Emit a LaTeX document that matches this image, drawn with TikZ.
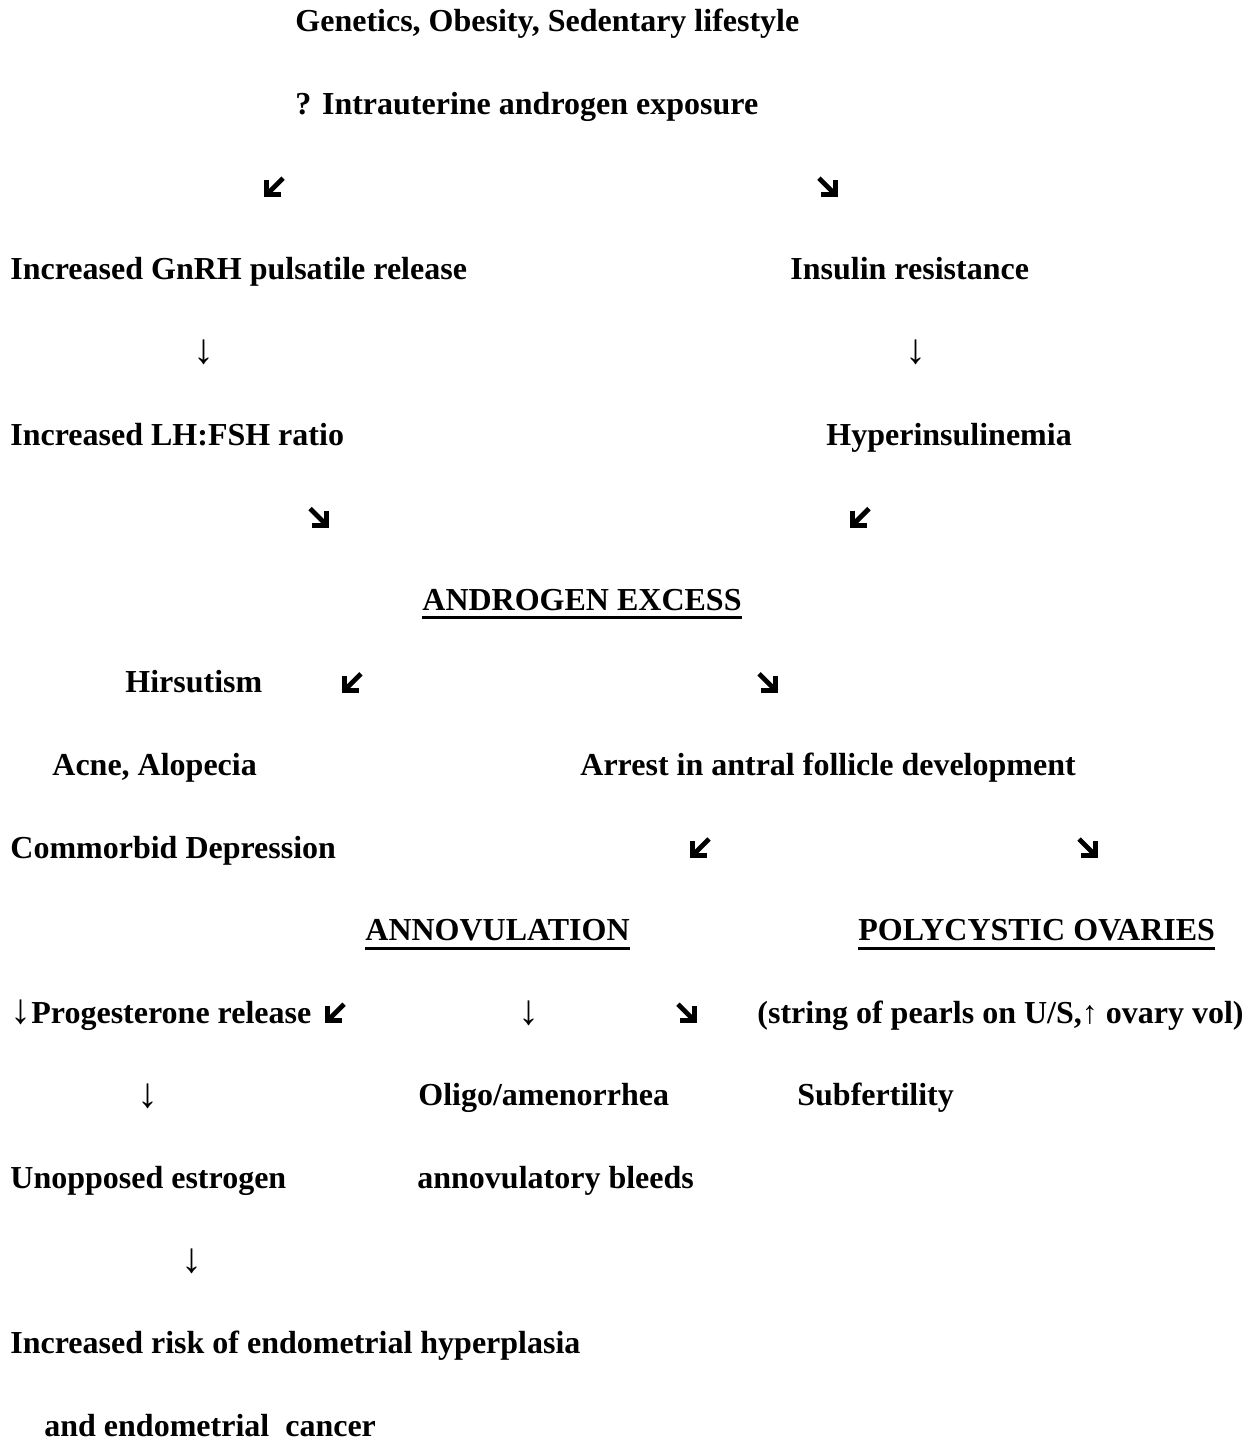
\documentclass[tikz,border=0pt]{standalone}
\usepackage{fontspec}
\setmainfont{Liberation Serif}
\usetikzlibrary{calc}
\tikzset{
  txt/.style={anchor=base west, inner sep=0pt, font=\fontsize{16}{19}\selectfont\bfseries},
  dglyph/.style={anchor=base, inner sep=0pt, font=\fontsize{21}{24}\selectfont\bfseries},
  diagarrow/.style={line width=2.4pt, line cap=butt, line join=miter},
  uline/.style={line width=1.5pt}
}
\newcommand\arrSW[2]{%
  \draw[diagarrow] (#1+19,#2-19) -- (#1+4,#2-4);
  \draw[diagarrow] (#1+2.4,#2-17) -- (#1+2.4,#2-2.4) -- (#1+17,#2-2.4);}
\newcommand\arrSE[2]{%
  \draw[diagarrow] (#1+1,#2-19) -- (#1+16,#2-4);
  \draw[diagarrow] (#1+3,#2-2.4) -- (#1+17.6,#2-2.4) -- (#1+17.6,#2-17);}
\begin{document}
\begin{tikzpicture}[x=0.5pt,y=-0.5pt]
\useasboundingbox (0,0) rectangle (1250,1444);
% row 1-2
\node[txt] (gen) at (295,32) {Genetics, Obesity, Sedentary lifestyle};
\node[txt] (intra) at (295,114.6) {? Intrauterine androgen exposure};
% row 3
\arrSW{264}{197.2}
\arrSE{818}{197.2}
% row 4
\node[txt] (gnrh) at (10,279.8) {Increased GnRH pulsatile release};
\node[txt] (ins) at (790,279.8) {Insulin resistance};
% row 5
\node[dglyph] (d1) at (204,364) {↓};
\node[dglyph] (d2) at (916,364) {↓};
% row 6
\node[txt] (lh) at (10,445) {Increased LH:FSH ratio};
\node[txt] (hyper) at (826,445) {Hyperinsulinemia};
% row 7
\arrSE{309}{527.6}
\arrSW{850}{527.6}
% row 8
\node[txt] (ae) at (422,610.2) {ANDROGEN EXCESS};
\draw[uline] ($(ae.base west)+(0,7.5)$) -- ($(ae.base east)+(0,7.5)$);
% row 9
\node[txt] (hir) at (125,692.8) {Hirsutism};
\arrSW{342}{692.8}
\arrSE{758}{692.8}
% row 10
\node[txt] (acne) at (52,775.4) {Acne, Alopecia};
\node[txt] (arrest) at (580,775.4) {Arrest in antral follicle development};
% row 11
\node[txt] (dep) at (10,858) {Commorbid Depression};
\arrSW{690}{858}
\arrSE{1078}{858}
% row 12
\node[txt] (anov) at (365,940.6) {ANNOVULATION\ };
\draw[uline] ($(anov.base west)+(0,7.5)$) -- ($(anov.base east)+(0,7.5)$);
\node[txt] (pco) at (858,940.6) {POLYCYSTIC OVARIES};
\draw[uline] ($(pco.base west)+(0,7.5)$) -- ($(pco.base east)+(0,7.5)$);
% row 13
\node[txt] (prog) at (10,1023.2) {{\fontsize{21}{24}\selectfont ↓}Progesterone release};
\arrSW{325}{1023.2}
\node[dglyph] (d3) at (529,1024.5) {↓};
\arrSE{677}{1023.2}
\node[txt] (pearls) at (757,1023.2) {(string of pearls on U/S,↑ ovary vol)};
% row 14
\node[dglyph] (d4) at (148,1107.5) {↓};
\node[txt] (oligo) at (418,1105.8) {Oligo/amenorrhea};
\node[txt] (subf) at (797,1105.8) {Subfertility};
% row 15
\node[txt] (unopp) at (10,1188.4) {Unopposed estrogen};
\node[txt] (bleeds) at (417,1188.4) {annovulatory bleeds};
% row 16
\node[dglyph] (d5) at (192,1272.5) {↓};
% row 17-18
\node[txt] (risk) at (10,1353.6) {Increased risk of endometrial hyperplasia};
\node[txt] (canc) at (44,1436.2) {and endometrial\ \ cancer};
\end{tikzpicture}
\end{document}
